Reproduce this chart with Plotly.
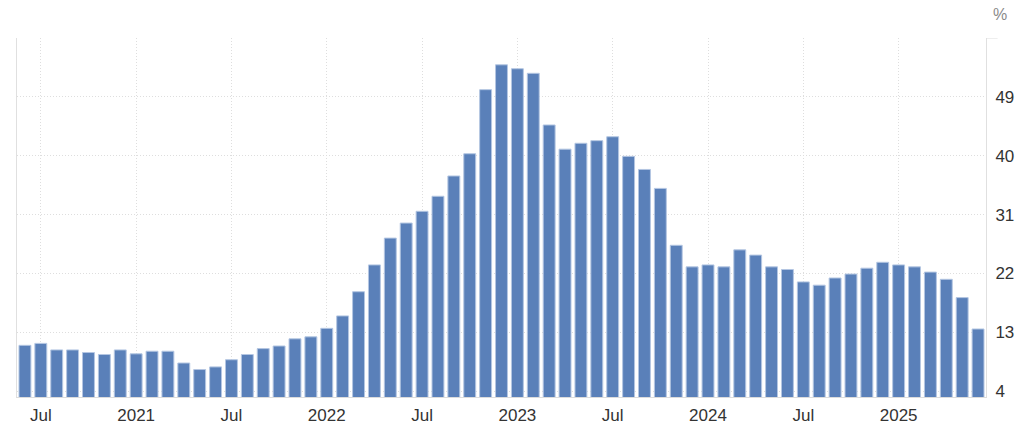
import plotly.graph_objects as go

months = [f"{y}-{m:02d}" for y in range(2020, 2026) for m in range(1, 13)]
months = months[months.index("2020-06"):months.index("2025-06") + 1]

values = [
    11.0, 11.3, 10.3, 10.3, 9.9, 9.6, 10.3,            # Jun-Dec 2020
    9.7, 10.1, 10.1, 8.3, 7.3, 7.7, 8.8, 9.6, 10.5, 10.9, 12.0, 12.3,   # 2021
    13.6, 15.5, 19.2, 23.3, 27.4, 29.7, 31.5, 33.8, 36.9, 40.3, 50.1, 53.9,  # 2022
    53.3, 52.6, 44.7, 41.0, 41.9, 42.3, 42.9, 39.9, 37.9, 35.0, 26.3, 23.0,  # 2023
    23.3, 23.0, 25.6, 24.8, 23.0, 22.6, 20.7, 20.2, 21.3, 21.9, 22.8, 23.7,  # 2024
    23.3, 23.0, 22.2, 21.1, 18.3, 13.5,                 # Jan-Jun 2025
]

x_tick_vals = ["2020-07", "2021-01", "2021-07", "2022-01", "2022-07",
               "2023-01", "2023-07", "2024-01", "2024-07", "2025-01"]
x_tick_text = ["Jul", "2021", "Jul", "2022", "Jul", "2023", "Jul", "2024", "Jul", "2025"]

y_tick_vals = [4, 13, 22, 31, 40, 49, 58]
y_tick_text = ["4", "13", "22", "31", "40", "49", ""]

fig = go.Figure(go.Bar(
    x=months, y=values,
    marker=dict(color="#5a80b9", line=dict(color="#b4c6e2", width=1)),
))

grid = "#dedede"
fig.update_layout(
    width=1024, height=425,
    margin=dict(l=17, r=38, t=38, b=28),
    paper_bgcolor="white", plot_bgcolor="white",
    bargap=0.25, showlegend=False,
    font=dict(family="Liberation Sans, Arial, sans-serif", size=17, color="#333333"),
    xaxis=dict(
        type="category", range=[-0.5, len(months) - 0.5], automargin=False,
        tickmode="array", tickvals=x_tick_vals, ticktext=x_tick_text,
        showgrid=True, gridcolor=grid, griddash="1px,2px", gridwidth=1,
        showline=True, linecolor="#dcdcdc", linewidth=1,
        ticks="", ticklabelstandoff=3,
        tickfont=dict(size=17, color="#333333"),
    ),
    yaxis=dict(
        side="right", range=[3.1, 58], automargin=False,
        tickmode="array", tickvals=y_tick_vals, ticktext=y_tick_text,
        showgrid=True, gridcolor=grid, griddash="1px,2px", gridwidth=1,
        showline=True, mirror=True, linecolor="#e0e0e0", linewidth=1,
        zeroline=False, ticks="", ticklabelstandoff=5,
        tickfont=dict(size=17, color="#333333"),
    ),
    annotations=[dict(
        text="%", xref="paper", yref="paper", x=1.0142, y=1.0, yshift=24,
        xanchor="center", yanchor="middle", showarrow=False,
        font=dict(size=16, color="#8a8a8a"),
    )],
    shapes=[dict(
        type="line", xref="paper", yref="y", x0=1.0, x1=1.012, y0=58, y1=58,
        line=dict(color=grid, width=1),
    )],
)

fig.write_html(
    "out.html",
    config={"displayModeBar": False},
    post_script="document.body.style.margin='0';document.body.style.overflow='hidden';",
)
